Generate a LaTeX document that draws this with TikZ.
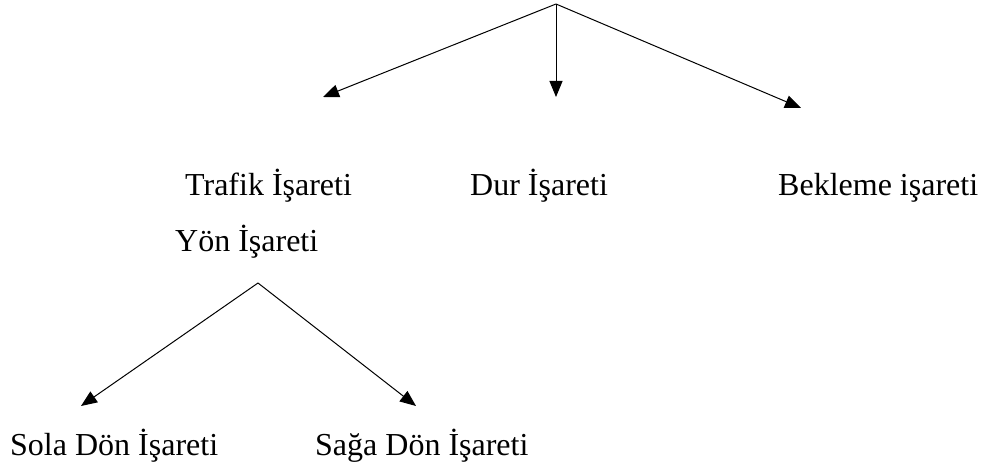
\documentclass[tikz,border=0pt]{standalone}
\usepackage{fontspec}
\setmainfont{Liberation Serif}
\usetikzlibrary{arrows.meta}
\begin{document}
\begin{tikzpicture}[x=1pt,y=-1pt,
  lbl/.style={anchor=base west,inner sep=0pt,font=\fontsize{32}{38}\selectfont},
  conn/.style={line width=1pt,-{Triangle[length=16pt,width=13pt]}}]
\useasboundingbox (0,0) rectangle (982,465);
\coordinate (top) at (556,4);
\coordinate (tl) at (323,97);
\coordinate (tm) at (556,97);
\coordinate (tr) at (801,108);
\coordinate (yon) at (258,283);
\coordinate (bl) at (81,406);
\coordinate (br) at (416,406);
\node[lbl] (trafik) at (185,196) {Trafik İşareti};
\node[lbl] (dur) at (470,196) {Dur İşareti};
\node[lbl] (bekleme) at (778,196) {Bekleme işareti};
\node[lbl] (yonlbl) at (175,251) {Yön İşareti};
\node[lbl] (sola) at (10,455) {Sola Dön İşareti};
\node[lbl] (saga) at (315,455) {Sağa Dön İşareti};
\draw[conn] (top) -- (tl);
\draw[conn] (top) -- (tm);
\draw[conn] (top) -- (tr);
\draw[conn] (yon) -- (bl);
\draw[conn] (yon) -- (br);
\end{tikzpicture}
\end{document}
